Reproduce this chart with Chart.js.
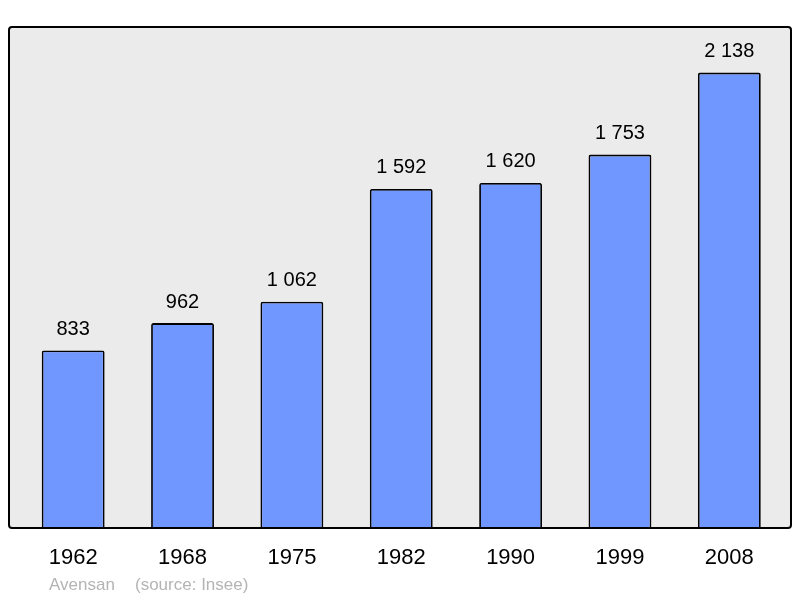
<!DOCTYPE html>
<html>
<head>
<meta charset="utf-8">
<script src="https://cdn.jsdelivr.net/npm/chart.js@4/dist/chart.umd.min.js"></script>
<style>
  html, body { margin: 0; padding: 0; background: #ffffff; }
  #wrap { width: 800px; height: 598px; }
</style>
</head>
<body>
<div id="wrap"><canvas id="myChart" width="800" height="598"></canvas></div>
<script>
const years = ["1962", "1968", "1975", "1982", "1990", "1999", "2008"];
const population = [833, 962, 1062, 1592, 1620, 1753, 2138];
const valueLabels = ["833", "962", "1 062", "1 592", "1 620", "1 753", "2 138"];
const townName = "Avensan";
const sourceText = "(source: Insee)";

const BAR_COLOR = "#7097ff";
const FRAME_BG = "#ebebeb";
const FONT = "'Liberation Sans', Arial, sans-serif";

// frame behind the bars, a bit wider than the chart area
function framePath(chart) {
    const { ctx, chartArea: { top, bottom, left, right } } = chart;
    const x0 = left - 9.5, x1 = right + 7;
    ctx.beginPath();
    ctx.roundRect(x0, top, x1 - x0, bottom - top, 3);
}

const framePlugin = {
    id: 'framePlugin',
    beforeDatasetsDraw(chart) {
        const ctx = chart.ctx;
        ctx.save();
        framePath(chart);
        ctx.fillStyle = FRAME_BG;
        ctx.fill();
        ctx.restore();
    },
    afterDatasetsDraw(chart) {
        const ctx = chart.ctx;
        ctx.save();
        framePath(chart);
        ctx.lineWidth = 2;
        ctx.strokeStyle = "#000000";
        ctx.stroke();
        ctx.restore();
    }
};

// value above each bar, year under each bar, footer text
const labelsPlugin = {
    id: 'labelsPlugin',
    afterDraw(chart) {
        const { ctx, chartArea: { bottom }, scales: { x, y } } = chart;
        ctx.save();
        ctx.fillStyle = "#000000";
        ctx.textAlign = 'center';
        ctx.textBaseline = 'middle';
        population.forEach((v, i) => {
            const xc = x.getPixelForValue(i);
            ctx.font = `20px ${FONT}`;
            ctx.fillText(valueLabels[i], xc, y.getPixelForValue(v) - 21);
            ctx.font = `22px ${FONT}`;
            ctx.fillText(years[i], xc, bottom + 30);
        });
        ctx.font = `17px ${FONT}`;
        ctx.fillStyle = "#b4b4b4";
        ctx.textAlign = 'left';
        ctx.fillText(townName, 49, bottom + 57);
        ctx.fillText(sourceText, 135, bottom + 57);
        ctx.restore();
    }
};

new Chart("myChart", {
    type: 'bar',
    data: {
        labels: years,
        datasets: [{
            data: population,
            backgroundColor: BAR_COLOR,
            borderColor: "#000000",
            borderWidth: 1.8,
            borderRadius: 2,
            borderSkipped: 'bottom',
            categoryPercentage: 1,
            barPercentage: 0.575
        }]
    },
    options: {
        responsive: false,
        animation: false,
        layout: { padding: { left: 18.5, right: 16, top: 27, bottom: 70 } },
        scales: {
            x: { display: false },
            y: { display: false, min: 0, max: 2352 }
        },
        plugins: {
            legend: { display: false },
            tooltip: { enabled: false }
        }
    },
    plugins: [framePlugin, labelsPlugin]
});
</script>
</body>
</html>
